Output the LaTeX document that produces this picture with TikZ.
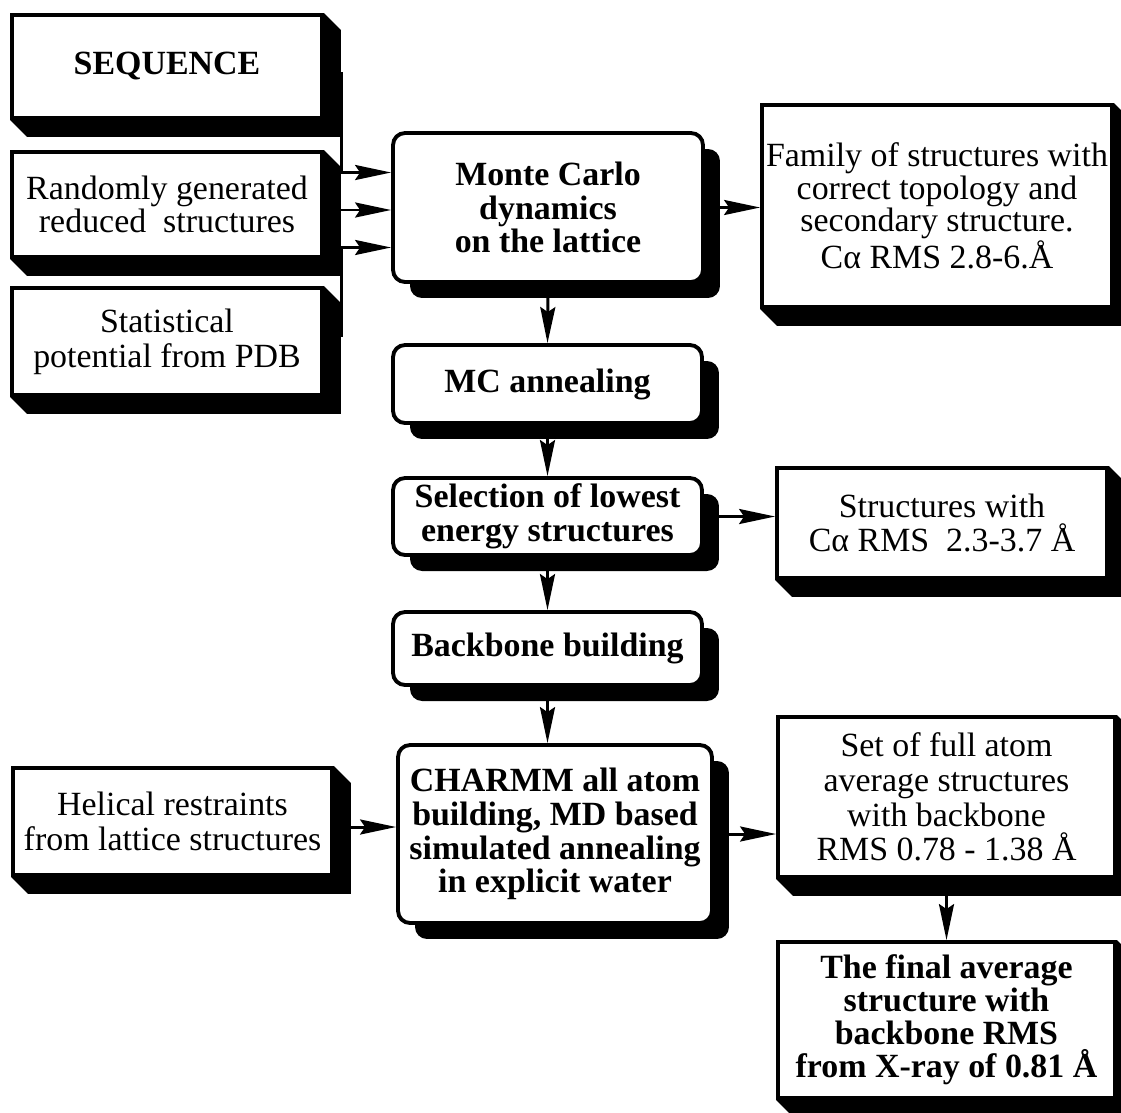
\documentclass[tikz,border=0pt]{standalone}
\usepackage{fontspec}
\setmainfont{Liberation Serif}
\usetikzlibrary{arrows.meta,shadows}

\tikzset{
  flatbox/.style={draw, line width=2.2pt, fill=white, align=center, inner sep=0pt,
    font=\fontsize{19.3}{19.8}\selectfont},
  tightbox/.style={flatbox, font=\fontsize{19.3}{17.2}\selectfont},
  boldbox/.style={flatbox, font=\fontsize{19.3}{18.8}\selectfont\bfseries},
  roundbox/.style={draw, line width=2.2pt, fill=white, rounded corners=0.24cm,
    align=center, inner sep=0pt, font=\fontsize{19.3}{19.2}\selectfont\bfseries,
    drop shadow={shadow xshift=0.34cm, shadow yshift=-0.32cm, fill=black, opacity=1}},
  arr/.style={line width=1.7pt, -{Stealth[length=0.72cm, width=0.3cm, inset=0.1cm]}},
}

\begin{document}
\begin{tikzpicture}[x=0.02cm, y=-0.02cm]
\useasboundingbox (0,0) rectangle (1121,1112);

% left inputs
\node[boldbox, minimum width=6.2cm, minimum height=2.06cm] (seq) at (167,66.5) {SEQUENCE};
\node[tightbox, minimum width=6.2cm, minimum height=2.1cm] (rand) at (167,204.5) {Randomly generated\\reduced~ structures};
\node[flatbox, minimum width=6.2cm, minimum height=2.14cm] (stat) at (167,341.5) {Statistical\\potential from PDB};
\node[flatbox, minimum width=6.38cm, minimum height=2.14cm] (help) at (172.5,821.5) {Helical restraints\\from lattice structures};

% main column
\node[roundbox, minimum width=6.2cm, minimum height=2.98cm] (mc) at (548,207.5) {Monte Carlo\\dynamics\\on the lattice};
\node[roundbox, minimum width=6.18cm, minimum height=1.56cm] (anneal) at (547.5,384) {MC annealing};
\node[roundbox, minimum width=6.18cm, minimum height=1.54cm] (select) at (547.5,516.5) {Selection of lowest\\energy structures};
\node[roundbox, minimum width=6.18cm, minimum height=1.46cm] (backbone) at (547.5,648.5) {Backbone building};
\node[roundbox, minimum width=6.28cm, minimum height=3.56cm] (charmm) at (555,834) {CHARMM all atom\\building, MD based\\simulated annealing\\in explicit water};

% results
\node[tightbox, minimum width=7cm, minimum height=4.04cm] (fam) at (937,206) {Family of structures with\\correct topology and\\secondary structure.\\Cα RMS 2.8-6.Å};
\node[flatbox, minimum width=6.6cm, minimum height=2.2cm] (struct) at (942,523) {Structures with\\Cα RMS~ 2.3-3.7 Å};
\node[flatbox, minimum width=6.74cm, minimum height=3.2cm] (set) at (946.5,797) {Set of full atom\\average structures\\with backbone\\RMS 0.78 - 1.38 Å};
\node[boldbox, minimum width=6.74cm, minimum height=3.12cm] (final) at (946.5,1020) {The final average\\structure with\\backbone RMS\\from X-ray of 0.81 Å};

% bevelled shadows
\foreach \n in {seq,rand,stat,help,fam,struct,set,final}
  \fill (\n.north east) -- ++(0.34cm,-0.34cm) -- ([shift={(0.34cm,-0.34cm)}]\n.south east)
    -- ([shift={(0.34cm,-0.34cm)}]\n.south west) -- (\n.south west) -- (\n.south east) -- cycle;

% connectors
\draw[arr] ([yshift=-0.13cm]seq.east) -- ++(18,0) |- ([yshift=0.7cm]mc.west);
\draw[arr] ([yshift=-0.11cm]rand.east) -- ([yshift=-0.11cm]rand.east -| mc.west);
\draw[arr] ([yshift=0.13cm]stat.east) -- ++(18,0) |- ([yshift=-0.8cm]mc.west);
\draw[arr] (mc.south) -- (anneal.north);
\draw[arr] (anneal.south) -- (select.north);
\draw[arr] (select.south) -- (backbone.north);
\draw[arr] (backbone.south) -- (backbone.south |- charmm.north);
\draw[arr] ([yshift=-0.11cm]help.east) -- ([yshift=-0.11cm]help.east -| charmm.west);
\draw[arr] (mc.east) -- (mc.east -| fam.west);
\draw[arr] (select.east) -- (select.east -| struct.west);
\draw[arr] (charmm.east) -- (charmm.east -| set.west);
\draw[arr] (set.south) -- (final.north);
\end{tikzpicture}
\end{document}
